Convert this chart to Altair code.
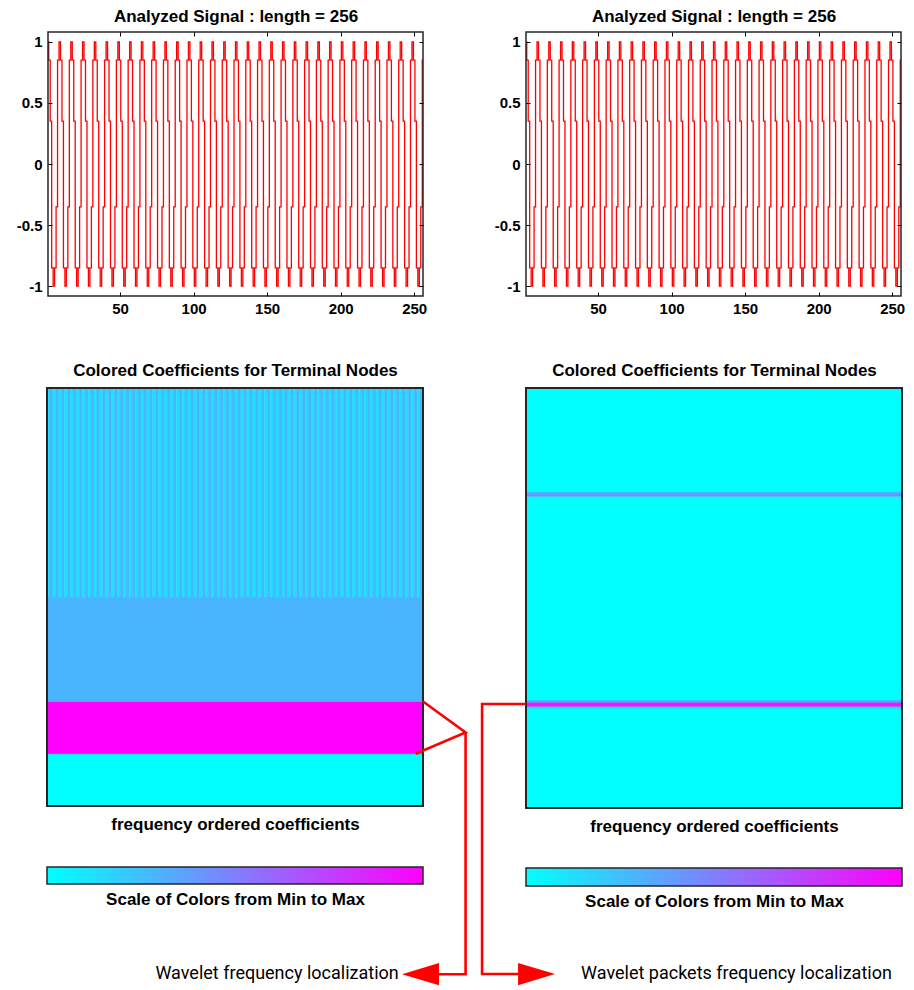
import altair as alt
import pandas as pd

# overall drawing area (inside the 8px page margin)
W, H = 898, 980

# ---------------------------------------------------------------- data
# analysed signal, 256 samples
SIGNAL = [
    1.0, 0.85, 0.35, -0.85, -1.0, -0.85, -0.35, 0.85, 1.0, 0.85, 0.35, -0.85, -1.0, -0.85, -0.35, 0.85,
    1.0, 0.85, 0.35, -0.85, -1.0, -0.85, -0.35, 0.85, 1.0, 0.85, 0.35, -0.85, -1.0, -0.85, -0.35, 0.85,
    1.0, 0.85, 0.35, -0.85, -1.0, -0.85, -0.35, 0.85, 1.0, 0.85, 0.35, -0.85, -1.0, -0.85, -0.35, 0.85,
    1.0, 0.85, 0.35, -0.85, -1.0, -0.85, -0.35, 0.85, 1.0, 0.85, 0.35, -0.85, -1.0, -0.85, -0.35, 0.85,
    1.0, 0.85, 0.35, -0.85, -1.0, -0.85, -0.35, 0.85, 1.0, 0.85, 0.35, -0.85, -1.0, -0.85, -0.35, 0.85,
    1.0, 0.85, 0.35, -0.85, -1.0, -0.85, -0.35, 0.85, 1.0, 0.85, 0.35, -0.85, -1.0, -0.85, -0.35, 0.85,
    1.0, 0.85, 0.35, -0.85, -1.0, -0.85, -0.35, 0.85, 1.0, 0.85, 0.35, -0.85, -1.0, -0.85, -0.35, 0.85,
    1.0, 0.85, 0.35, -0.85, -1.0, -0.85, -0.35, 0.85, 1.0, 0.85, 0.35, -0.85, -1.0, -0.85, -0.35, 0.85,
    1.0, 0.85, 0.35, -0.85, -1.0, -0.85, -0.35, 0.85, 1.0, 0.85, 0.35, -0.85, -1.0, -0.85, -0.35, 0.85,
    1.0, 0.85, 0.35, -0.85, -1.0, -0.85, -0.35, 0.85, 1.0, 0.85, 0.35, -0.85, -1.0, -0.85, -0.35, 0.85,
    1.0, 0.85, 0.35, -0.85, -1.0, -0.85, -0.35, 0.85, 1.0, 0.85, 0.35, -0.85, -1.0, -0.85, -0.35, 0.85,
    1.0, 0.85, 0.35, -0.85, -1.0, -0.85, -0.35, 0.85, 1.0, 0.85, 0.35, -0.85, -1.0, -0.85, -0.35, 0.85,
    1.0, 0.85, 0.35, -0.85, -1.0, -0.85, -0.35, 0.85, 1.0, 0.85, 0.35, -0.85, -1.0, -0.85, -0.35, 0.85,
    1.0, 0.85, 0.35, -0.85, -1.0, -0.85, -0.35, 0.85, 1.0, 0.85, 0.35, -0.85, -1.0, -0.85, -0.35, 0.85,
    1.0, 0.85, 0.35, -0.85, -1.0, -0.85, -0.35, 0.85, 1.0, 0.85, 0.35, -0.85, -1.0, -0.85, -0.35, 0.85,
    1.0, 0.85, 0.35, -0.85, -1.0, -0.85, -0.35, 0.85, 1.0, 0.85, 0.35, -0.85, -1.0, -0.85, -0.35, 0.85,
]
SIG_X_DOMAIN = [1, 256]
SIG_Y_DOMAIN = [-1.08, 1.08]
X_TICKS = [50, 100, 150, 200, 250]
Y_TICKS = [-1, -0.5, 0, 0.5, 1]
SIG_TITLE = "Analyzed Signal : length = 256"

# wavelet decomposition (level 3), frequency ordered: low frequencies at the bottom
COEF_DOMAIN = [0, 256]
WT_NODES = ["a3", "d3", "d2"]
WT_LO = [0, 32, 64]
WT_HI = [32, 64, 128]
WT_VALUE = [0.0, 1.0, 0.29]
# detail d1 : 128 coefficients (rows 128..256)
D1_COEFS = [
    0.12, 0.29, 0.12, 0.29, 0.12, 0.29, 0.12, 0.29, 0.12, 0.29, 0.12, 0.29, 0.12, 0.29, 0.12, 0.29,
    0.12, 0.29, 0.12, 0.29, 0.12, 0.29, 0.12, 0.29, 0.12, 0.29, 0.12, 0.29, 0.12, 0.29, 0.12, 0.29,
    0.12, 0.29, 0.12, 0.29, 0.12, 0.29, 0.12, 0.29, 0.12, 0.29, 0.12, 0.29, 0.12, 0.29, 0.12, 0.29,
    0.12, 0.29, 0.12, 0.29, 0.12, 0.29, 0.12, 0.29, 0.12, 0.29, 0.12, 0.29, 0.12, 0.29, 0.12, 0.29,
    0.12, 0.29, 0.12, 0.29, 0.12, 0.29, 0.12, 0.29, 0.12, 0.29, 0.12, 0.29, 0.12, 0.29, 0.12, 0.29,
    0.12, 0.29, 0.12, 0.29, 0.12, 0.29, 0.12, 0.29, 0.12, 0.29, 0.12, 0.29, 0.12, 0.29, 0.12, 0.29,
    0.12, 0.29, 0.12, 0.29, 0.12, 0.29, 0.12, 0.29, 0.12, 0.29, 0.12, 0.29, 0.12, 0.29, 0.12, 0.29,
    0.12, 0.29, 0.12, 0.29, 0.12, 0.29, 0.12, 0.29, 0.12, 0.29, 0.12, 0.29, 0.12, 0.29, 0.12, 0.29,
]
D1_LO, D1_HI = 128, 256

# wavelet packets: terminal-node bands (row ranges) and their colour value
WP_LO = [0, 61, 62, 63, 64, 65, 66, 190, 192, 193]
WP_HI = [61, 62, 63, 64, 65, 66, 190, 192, 193, 256]
WP_VALUE = [0.0, 0.2, 0.85, 1.0, 0.55, 0.3, 0.0, 0.42, 0.28, 0.0]

COEF_TITLE = "Colored Coefficients for Terminal Nodes"
COEF_XLABEL = "frequency ordered coefficients"
CB_LABEL = "Scale of Colors from Min to Max"
CB_RANGE = [0, 1]

# annotation paths, in the coordinates of the coefficient panels they point at
ANN_L_PATH = ["wedge", "wedge", "wedge", "stem", "stem", "stem"]
ANN_L_X = [256, 285, 251, 285, 285, 250]
ANN_L_Y = [64, 45, 32, 45, -103, -103]
ANN_L_TIP = (241.7, -103)
ANN_L_TEXT = "Wavelet frequency localization"
ANN_L_TEXT_POS = (239.5, -103)

ANN_R_PATH = ["stem", "stem", "stem", "stem"]
ANN_R_X = [0, -29.9, -29.9, 10]
ANN_R_Y = [63.4, 63.4, -101.2, -101.2]
ANN_R_TIP = (19.8, -101.2)
ANN_R_TEXT = "Wavelet packets frequency localization"
ANN_R_TEXT_POS = (37.5, -101.2)

# ---------------------------------------------------------------- styles
FONT = "Liberation Sans"
NARROW = "Roboto"
RED = "#ff0000"
FRAME = "#262626"
COLOR_SCALE = alt.Scale(domain=CB_RANGE, range=["#00ffff", "#ff00ff"], interpolate="rgb")
GRAD = alt.LinearGradient(
    gradient="linear",
    stops=[alt.GradientStop(color="#00ffff", offset=0), alt.GradientStop(color="#ff00ff", offset=1)],
    x1=0, x2=1, y1=0, y2=0,
)


def ax(orient, offset, **kw):
    base = dict(orient=orient, offset=offset, grid=False, domain=False, labels=False,
                ticks=False, tickSize=0, title=None, labelFont=FONT, labelFontSize=15,
                labelFontWeight="bold", labelColor="black", titleFont=FONT,
                titleFontSize=17, titleFontWeight="bold", titleColor="black")
    base.update(kw)
    return alt.Axis(**base)


sig_df = pd.DataFrame({"n": list(range(1, len(SIGNAL) + 1)), "amp": SIGNAL})
sig_frame = pd.DataFrame({"x0": [SIG_X_DOMAIN[0]], "x1": [SIG_X_DOMAIN[1]],
                          "y0": [SIG_Y_DOMAIN[0]], "y1": [SIG_Y_DOMAIN[1]]})


def signal_panel(x0, x1, top, bottom):
    xs = alt.Scale(domain=SIG_X_DOMAIN, range=[x0, x1], nice=False, zero=False)
    ys = alt.Scale(domain=SIG_Y_DOMAIN, range=[bottom, top], nice=False, zero=False)
    line = alt.Chart(sig_df).mark_line(color=RED, strokeWidth=1.3, interpolate="step").encode(
        x=alt.X("n:Q", scale=xs, axis=ax("bottom", bottom - H, labels=True, values=X_TICKS,
                                          labelPadding=5, labelFlush=False)),
        y=alt.Y("amp:Q", scale=ys, axis=ax("left", -x0, labels=True, values=Y_TICKS,
                                            labelPadding=6, labelFlush=False,
                                            labelExpr="'' + datum.value")),
    )
    frame = alt.Chart(sig_frame).mark_rect(fillOpacity=0, stroke=FRAME, strokeWidth=1.5).encode(
        x=alt.X("x0:Q", scale=xs, axis=ax("top", -top, title=SIG_TITLE, titlePadding=7)),
        x2="x1:Q",
        y=alt.Y("y0:Q", scale=ys, axis=None),
        y2="y1:Q",
    )
    ticks_a = alt.Chart(sig_frame).mark_rect(opacity=0).encode(
        x=alt.X("x0:Q", scale=xs, axis=ax("bottom", top - H, ticks=True, tickSize=4,
                                           tickColor="black", values=X_TICKS, zindex=2)),
        x2="x1:Q",
        y=alt.Y("y0:Q", scale=ys, axis=ax("right", x0 - W, ticks=True, tickSize=4,
                                           tickColor="black", values=Y_TICKS, zindex=2)),
        y2="y1:Q",
    )
    ticks_b = alt.Chart(sig_frame).mark_rect(opacity=0).encode(
        x=alt.X("x0:Q", scale=xs, axis=ax("top", -bottom, ticks=True, tickSize=4,
                                           tickColor="black", values=X_TICKS, zindex=2)),
        x2="x1:Q",
        y=alt.Y("y0:Q", scale=ys, axis=ax("left", -x1, ticks=True, tickSize=4,
                                           tickColor="black", values=Y_TICKS, zindex=2)),
        y2="y1:Q",
    )
    return alt.layer(line, frame, ticks_a, ticks_b).resolve_axis(x="independent", y="independent")


coef_frame = pd.DataFrame({"c0": [COEF_DOMAIN[0]], "c1": [COEF_DOMAIN[1]],
                           "lo": [COEF_DOMAIN[0]], "hi": [COEF_DOMAIN[1]]})


def band_rects(df, xs, ys, xaxis):
    return alt.Chart(df).mark_rect(strokeWidth=0.6).encode(
        x=alt.X("c0:Q", scale=xs, axis=xaxis),
        x2="c1:Q",
        y=alt.Y("lo:Q", scale=ys, axis=None),
        y2="hi:Q",
        fill=alt.Fill("v:Q", scale=COLOR_SCALE, legend=None),
        stroke=alt.Stroke("v:Q", scale=COLOR_SCALE, legend=None),
    )


def frame_rect(xs, ys):
    return alt.Chart(coef_frame).mark_rect(fillOpacity=0, stroke=FRAME, strokeWidth=2).encode(
        x=alt.X("c0:Q", scale=xs, axis=None), x2="c1:Q",
        y=alt.Y("lo:Q", scale=ys, axis=None), y2="hi:Q",
    )


def annotation(xs, ys, px, py, ppath, tip, shape, text, text_pos, align):
    path_df = pd.DataFrame({"x": px, "y": py, "path": ppath, "k": list(range(len(px)))})
    lines = alt.Chart(path_df).mark_line(color=RED, strokeWidth=2.6, strokeJoin="miter").encode(
        x=alt.X("x:Q", scale=xs, axis=None),
        y=alt.Y("y:Q", scale=ys, axis=None),
        detail="path:N",
        order="k:Q",
    )
    head = alt.Chart(pd.DataFrame({"x": [tip[0]], "y": [tip[1]]})).mark_point(
        shape=shape, size=1369, filled=True, color=RED, opacity=1, strokeWidth=0
    ).encode(x=alt.X("x:Q", scale=xs, axis=None), y=alt.Y("y:Q", scale=ys, axis=None))
    label = alt.Chart(pd.DataFrame({"x": [text_pos[0]], "y": [text_pos[1]], "t": [text]})).mark_text(
        align=align, baseline="middle", font=NARROW, fontSize=18, color="black"
    ).encode(x=alt.X("x:Q", scale=xs, axis=None), y=alt.Y("y:Q", scale=ys, axis=None), text="t:N")
    return [lines, head, label]


def wavelet_panel(x0, x1, top, bottom):
    xs = alt.Scale(domain=COEF_DOMAIN, range=[x0, x1], nice=False, zero=False)
    ys = alt.Scale(domain=COEF_DOMAIN, range=[bottom, top], nice=False, zero=False)
    bands = pd.DataFrame({"node": WT_NODES, "lo": WT_LO, "hi": WT_HI, "v": WT_VALUE,
                          "c0": [COEF_DOMAIN[0]] * len(WT_NODES), "c1": [COEF_DOMAIN[1]] * len(WT_NODES)})
    step = (COEF_DOMAIN[1] - COEF_DOMAIN[0]) / len(D1_COEFS)
    d1 = pd.DataFrame({"c0": [k * step for k in range(len(D1_COEFS))],
                       "c1": [(k + 1) * step for k in range(len(D1_COEFS))],
                       "lo": [D1_LO] * len(D1_COEFS), "hi": [D1_HI] * len(D1_COEFS), "v": D1_COEFS})
    layers = [
        band_rects(bands, xs, ys, ax("top", -top, title=COEF_TITLE, titlePadding=9)),
        band_rects(d1, xs, ys, ax("bottom", bottom - H, title=COEF_XLABEL, titlePadding=10)),
        frame_rect(xs, ys),
    ]
    layers += annotation(xs, ys, ANN_L_X, ANN_L_Y, ANN_L_PATH, ANN_L_TIP,
                         "M 0 0 L 2 -0.6 L 2 0.6 Z", ANN_L_TEXT, ANN_L_TEXT_POS, "right")
    return alt.layer(*layers).resolve_axis(x="independent", y="independent")


def packet_panel(x0, x1, top, bottom):
    xs = alt.Scale(domain=COEF_DOMAIN, range=[x0, x1], nice=False, zero=False)
    ys = alt.Scale(domain=COEF_DOMAIN, range=[bottom, top], nice=False, zero=False)
    bands = pd.DataFrame({"lo": WP_LO, "hi": WP_HI, "v": WP_VALUE,
                          "c0": [COEF_DOMAIN[0]] * len(WP_LO), "c1": [COEF_DOMAIN[1]] * len(WP_LO)})
    layers = [
        band_rects(bands, xs, ys, ax("top", -top, title=COEF_TITLE, titlePadding=9)),
        frame_rect(xs, ys).encode(
            x=alt.X("c0:Q", scale=xs, axis=ax("bottom", bottom - H, title=COEF_XLABEL, titlePadding=10))),
    ]
    layers += annotation(xs, ys, ANN_R_X, ANN_R_Y, ANN_R_PATH, ANN_R_TIP,
                         "M 0 0 L -2 -0.6 L -2 0.6 Z", ANN_R_TEXT, ANN_R_TEXT_POS, "left")
    return alt.layer(*layers).resolve_axis(x="independent", y="independent")


def colorbar(x0, x1, top, bottom):
    xs = alt.Scale(domain=CB_RANGE, range=[x0, x1], nice=False, zero=False)
    ys = alt.Scale(domain=CB_RANGE, range=[bottom, top], nice=False, zero=False)
    df = pd.DataFrame({"lo": [CB_RANGE[0]], "hi": [CB_RANGE[1]], "b": [CB_RANGE[0]], "t": [CB_RANGE[1]]})
    return alt.Chart(df).mark_rect(fill=GRAD, stroke=FRAME, strokeWidth=1.5).encode(
        x=alt.X("lo:Q", scale=xs, axis=ax("bottom", bottom - H, title=CB_LABEL, titlePadding=7)),
        x2="hi:Q",
        y=alt.Y("b:Q", scale=ys, axis=None),
        y2="t:Q",
    )


chart = alt.layer(
    signal_panel(40, 415, 24, 288),
    signal_panel(518, 893, 24, 288),
    wavelet_panel(39, 415, 380, 798),
    packet_panel(518, 894, 380, 800),
    colorbar(39, 415, 859, 876),
    colorbar(518, 894, 860, 878),
).resolve_scale(x="independent", y="independent").properties(
    width=W, height=H, padding=0, autosize=alt.AutoSizeParams(type="none")
).configure_view(strokeOpacity=0)

chart.save("out.html", embed_options={"renderer": "svg", "actions": False})
